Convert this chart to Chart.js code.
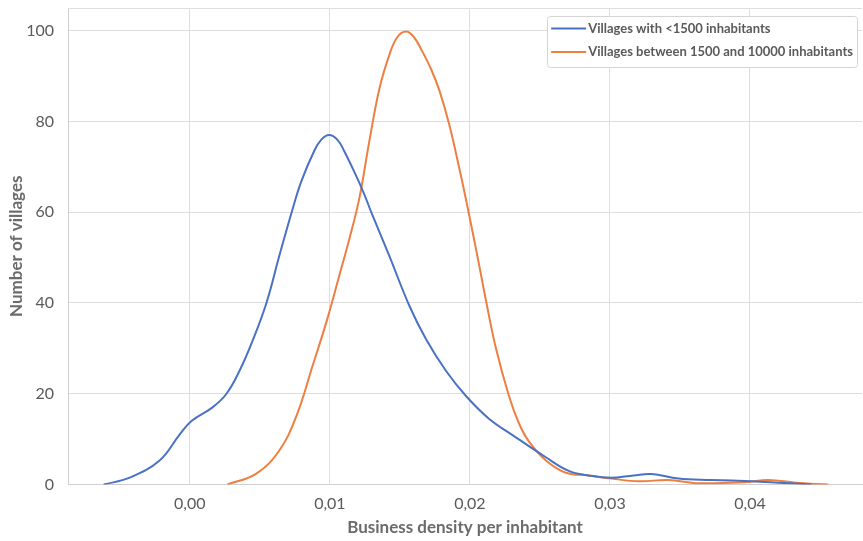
<!DOCTYPE html>
<html>
<head>
<meta charset="utf-8">
<script src="https://cdn.jsdelivr.net/npm/chart.js@4/dist/chart.umd.min.js"></script>
<style>
html,body{margin:0;padding:0;background:#fff;}
#wrap{width:863px;height:541px;position:relative;}
</style>
</head>
<body>
<div id="wrap"><canvas id="c"></canvas></div>
<script>
// ---- data ----
const seriesNames = ['Villages with <1500 inhabitants', 'Villages between 1500 and 10000 inhabitants'];

const smallX = [-0.00615, -0.0043, -0.00216, -0.00073, 0.00012, 0.00162, 0.00262, 0.00354, 0.00447, 0.00547, 0.0064, 0.00732, 0.00796, 0.00888, 0.00939, 0.00995, 0.01053, 0.01102, 0.01188, 0.01245, 0.01302, 0.01423, 0.01566, 0.01687, 0.0183, 0.01972, 0.02136, 0.02299, 0.02542, 0.02706, 0.02849, 0.03005, 0.03169, 0.03297, 0.0349, 0.03726, 0.04011, 0.04203, 0.04438];
const smallY = [0, 1.5, 5.3, 11, 14, 17, 20, 25, 31.6, 40, 50.5, 60.5, 66.8, 73.5, 76, 77, 76, 73.5, 68, 64, 59.5, 50.5, 39.5, 32, 25, 19.5, 14.5, 11, 6, 3, 2, 1.5, 2, 2.3, 1.3, 1, 0.7, 0.4, 0];

const midX = [0.00269, 0.00475, 0.00639, 0.0076, 0.00875, 0.00982, 0.01067, 0.01138, 0.0121, 0.01281, 0.01352, 0.01423, 0.0148, 0.01545, 0.01602, 0.01659, 0.01723, 0.0178, 0.01851, 0.01922, 0.01994, 0.02065, 0.02115, 0.02186, 0.02279, 0.0235, 0.02421, 0.02543, 0.02685, 0.02849, 0.03013, 0.03205, 0.0342, 0.03612, 0.03968, 0.04132, 0.04324, 0.04559];
const midY = [0, 2.4, 7.5, 15, 26, 36.5, 46, 54, 63, 75.5, 87, 94.5, 98.5, 99.8, 98.5, 95.5, 91.5, 87, 79.5, 70, 59.5, 48.5, 40.5, 30, 19.5, 13.5, 9.5, 5.3, 2.6, 2, 1.3, 0.7, 1, 0.3, 0.5, 1, 0.4, 0];

const xTickValues = [0, 0.01, 0.02, 0.03, 0.04];
const xTickLabels = ['0,00', '0,01', '0,02', '0,03', '0,04'];
const yTickValues = [0, 20, 40, 60, 80, 100];
const yTickLabels = ['0', '20', '40', '60', '80', '100'];

const xTitle = 'Business density per inhabitant';
const yTitle = 'Number of villages';

// ---- styles ----
const colors = ['#4a72c4', '#ec7f41'];
const gridColor = '#dedede';
const textColor = '#5a5a5a';
const titleColor = '#6b6b6b';
const FONT = 'Lato, "Open Sans", sans-serif';

function zip(xs, ys) { return xs.map((x, i) => ({ x: x, y: ys[i] })); }

const topFrame = {
  id: 'topFrame',
  beforeDatasetsDraw(chart) {
    const a = chart.chartArea, ctx = chart.ctx;
    ctx.save();
    ctx.strokeStyle = gridColor;
    ctx.lineWidth = 1;
    ctx.beginPath();
    ctx.moveTo(a.left, a.top + 0.5);
    ctx.lineTo(a.right, a.top + 0.5);
    ctx.stroke();
    ctx.restore();
  }
};

const boxLegend = {
  id: 'boxLegend',
  afterDraw(chart) {
    const a = chart.chartArea, ctx = chart.ctx;
    const ds = chart.data.datasets;
    ctx.save();
    ctx.font = 'bold 13px ' + FONT;
    let maxW = 0;
    ds.forEach(d => { maxW = Math.max(maxW, ctx.measureText(d.label).width); });
    const lineLen = 35, padL = 4, gap = 2, padR = 4, rowH = 23.4;
    const w = padL + lineLen + gap + maxW + padR;
    const h = 51;
    const right = a.right - 5;
    const left = right - w;
    const top = a.top + 8;
    ctx.fillStyle = '#ffffff';
    ctx.strokeStyle = '#d4d4d4';
    ctx.lineWidth = 1;
    ctx.beginPath();
    ctx.roundRect(Math.round(left) + 0.5, Math.round(top) + 0.5, Math.round(w), Math.round(h), 3);
    ctx.fill();
    ctx.stroke();
    ds.forEach((d, i) => {
      const cy = top + 12.6 + i * rowH;
      ctx.strokeStyle = d.borderColor;
      ctx.lineWidth = 2;
      ctx.beginPath();
      ctx.moveTo(left + padL, cy);
      ctx.lineTo(left + padL + lineLen, cy);
      ctx.stroke();
      ctx.fillStyle = textColor;
      ctx.textBaseline = 'middle';
      ctx.textAlign = 'left';
      ctx.fillText(d.label, left + padL + lineLen + gap, cy);
    });
    ctx.restore();
  }
};

new Chart(document.getElementById('c'), {
  type: 'line',
  data: {
    datasets: [
      { label: seriesNames[0], data: zip(smallX, smallY), borderColor: colors[0], backgroundColor: colors[0],
        borderWidth: 2, pointRadius: 0, tension: 0.4, fill: false },
      { label: seriesNames[1], data: zip(midX, midY), borderColor: colors[1], backgroundColor: colors[1],
        borderWidth: 2, pointRadius: 0, tension: 0.4, fill: false }
    ]
  },
  options: {
    responsive: true,
    maintainAspectRatio: false,
    animation: false,
    devicePixelRatio: 1,
    layout: { padding: { top: 8, right: 1, left: 0, bottom: 0 } },
    plugins: { legend: { display: false }, tooltip: { enabled: false } },
    scales: {
      x: {
        type: 'linear',
        min: -0.0087,
        max: 0.048,
        afterBuildTicks: s => { s.ticks = xTickValues.map(v => ({ value: v })); },
        afterFit: s => { s.height = 56.5; s.paddingLeft = 0; s.paddingRight = 0; },
        ticks: {
          callback: (v, i) => xTickLabels[i],
          color: textColor,
          font: { family: FONT, size: 16 },
          padding: 10,
          maxRotation: 0,
          autoSkip: false
        },
        grid: { color: gridColor, lineWidth: 1, drawTicks: false },
        border: { color: '#cfcfcf', width: 1 },
        title: {
          display: true, text: xTitle, color: titleColor,
          font: { family: FONT, size: 17, weight: 'bold' },
          padding: { top: 0, bottom: 3 }
        }
      },
      y: {
        min: 0,
        max: 105,
        afterBuildTicks: s => { s.ticks = yTickValues.map(v => ({ value: v })); },
        afterFit: s => { s.width = 68; s.paddingTop = 0; s.paddingBottom = 0; },
        ticks: {
          callback: (v, i) => yTickLabels[i],
          color: textColor,
          font: { family: FONT, size: 16 },
          padding: 14,
          autoSkip: false
        },
        grid: { color: gridColor, lineWidth: 1, drawTicks: false },
        border: { color: '#cfcfcf', width: 1 },
        title: {
          display: true, text: yTitle, color: titleColor,
          font: { family: FONT, size: 17, weight: 'bold' },
          padding: { top: 6, bottom: 0 }
        }
      }
    }
  },
  plugins: [topFrame, boxLegend]
});
</script>
</body>
</html>
